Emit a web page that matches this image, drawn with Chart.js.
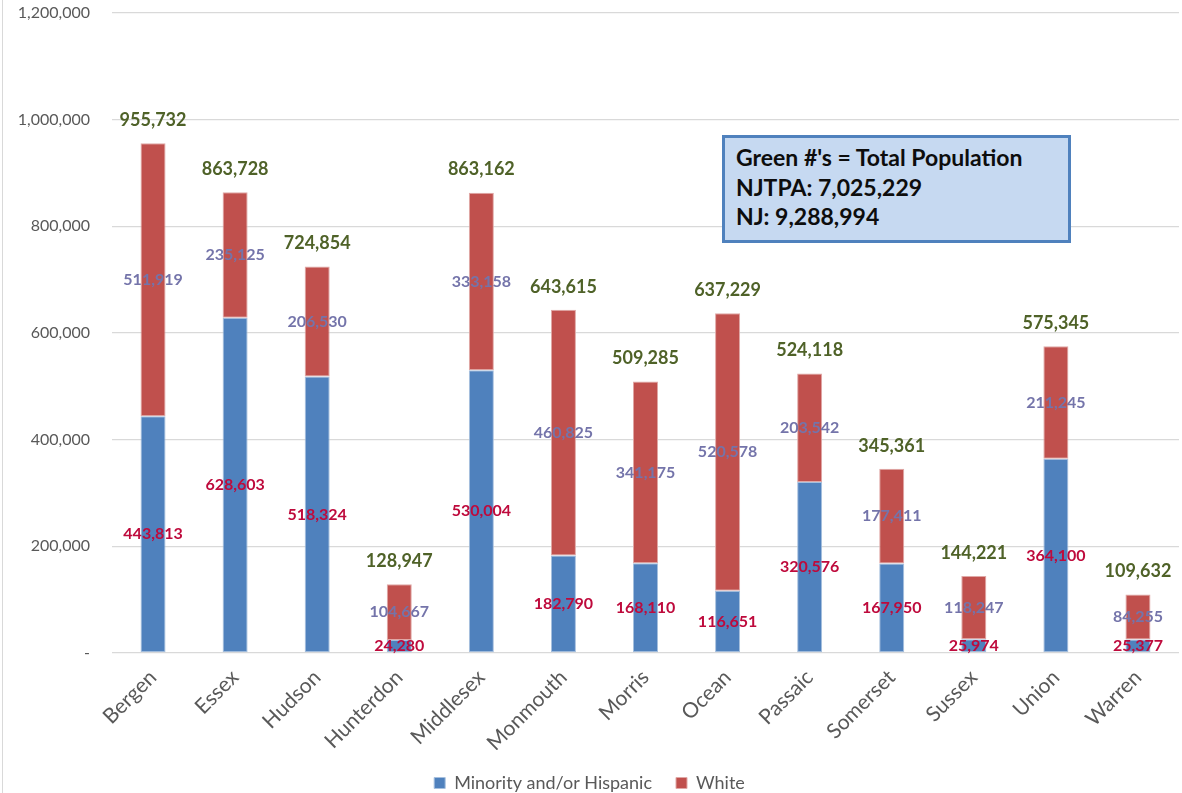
<!DOCTYPE html>
<html>
<head>
<meta charset="utf-8">
<script src="https://cdn.jsdelivr.net/npm/chart.js@4.4.1/dist/chart.umd.min.js"></script>
<style>
  html, body { margin: 0; padding: 0; background: #fff; overflow: hidden; }
  #wrap { position: relative; width: 1182px; height: 793px; }
  #wrap::before { content: ""; position: absolute; left: 2px; top: 0; bottom: 0; width: 1px; background: #D9D9D9; }
  #note {
    position: absolute; left: 722px; top: 135px; width: 343px; height: 102px;
    background: #C6D9F1; border: 3px solid #4F81BD; box-sizing: content-box;
    font-family: Lato, "Open Sans", sans-serif; font-weight: bold; font-size: 23px;
    color: #0D0D0D; line-height: 29.5px; padding: 0; white-space: nowrap;
  }
  #note div { padding-left: 11px; }
  #note .first { margin-top: 5px; }
</style>
</head>
<body>
<div id="wrap">
  <canvas id="c"></canvas>
  <div id="note">
    <div class="first">Green #'s = Total Population</div>
    <div>NJTPA: 7,025,229</div>
    <div>NJ: 9,288,994</div>
  </div>
</div>
<script>
const counties = ["Bergen","Essex","Hudson","Hunterdon","Middlesex","Monmouth","Morris","Ocean","Passaic","Somerset","Sussex","Union","Warren"];
const minority = [443813, 628603, 518324, 24280, 530004, 182790, 168110, 116651, 320576, 167950, 25974, 364100, 25377];
const white = [511919, 235125, 206530, 104667, 333158, 460825, 341175, 520578, 203542, 177411, 118247, 211245, 84255];
const totals = [955732, 863728, 724854, 128947, 863162, 643615, 509285, 637229, 524118, 345361, 144221, 575345, 109632];
const yTicks = [0, 200000, 400000, 600000, 800000, 1000000, 1200000];

const FONT = 'Lato, "Open Sans", sans-serif';
const fmt = v => v.toLocaleString('en-US');

const labelPlugin = {
  id: 'barLabels',
  afterDatasetsDraw(chart) {
    const ctx = chart.ctx;
    ctx.save();
    ctx.textAlign = 'center';
    ctx.textBaseline = 'middle';
    ctx.font = 'bold 16px ' + FONT;
    const colors = ['#BE0A3C', '#7474AA'];
    chart.data.datasets.forEach((ds, di) => {
      const meta = chart.getDatasetMeta(di);
      ctx.fillStyle = colors[di];
      meta.data.forEach((el, i) => {
        const yc = (el.y + el.base) / 2;
        ctx.fillText(fmt(ds.data[i]), el.x, yc);
      });
    });
    const ys = chart.scales.y;
    const meta0 = chart.getDatasetMeta(0);
    ctx.font = 'bold 18px ' + FONT;
    ctx.fillStyle = '#4F6228';
    totals.forEach((t, i) => {
      const x = meta0.data[i].x;
      ctx.fillText(fmt(t), x, ys.getPixelForValue(t) - 23);
    });
    ctx.restore();
  }
};

new Chart(document.getElementById('c'), {
  type: 'bar',
  data: {
    labels: counties,
    datasets: [
      { label: 'Minority and/or Hispanic', data: minority, backgroundColor: '#4F81BD', borderColor: '#A7C0DE', borderWidth: 1, borderSkipped: false },
      { label: 'White', data: white, backgroundColor: '#C0504D', borderColor: '#E0A8A6', borderWidth: 1, borderSkipped: false }
    ]
  },
  options: {
    responsive: true,
    maintainAspectRatio: false,
    animation: false,
    layout: { padding: { top: 13, right: 3, left: 0, bottom: -9 } },
    datasets: { bar: { categoryPercentage: 1.0, barPercentage: 0.305 } },
    plugins: {
      legend: {
        position: 'bottom',
        labels: { boxWidth: 11, boxHeight: 11, color: '#595959', font: { family: FONT, size: 18 }, padding: 24 }
      },
      tooltip: { enabled: false }
    },
    scales: {
      x: {
        stacked: true,
        grid: { display: false },
        border: { display: false },
        ticks: { color: '#595959', font: { family: FONT, size: 21 }, minRotation: 45, maxRotation: 45, padding: 4 },
        afterFit: s => { s.height = 97; }
      },
      y: {
        stacked: true,
        min: 0, max: 1200000,
        afterBuildTicks: s => { s.ticks = yTicks.map(v => ({ value: v })); },
        grid: { color: '#D9D9D9', lineWidth: 1.3, drawTicks: true, tickLength: 19, tickColor: 'rgba(0,0,0,0)' },
        border: { display: false },
        ticks: { color: '#595959', font: { family: FONT, size: 16 }, padding: 3,
          callback: v => v === 0 ? '-' : fmt(v) },
        afterFit: s => { s.width = 112; }
      }
    }
  },
  plugins: [labelPlugin]
});
</script>
</body>
</html>
